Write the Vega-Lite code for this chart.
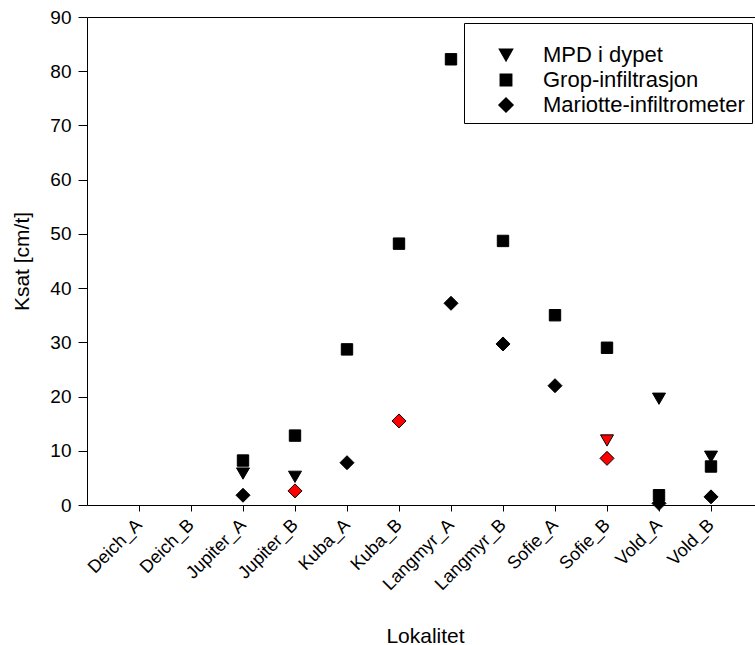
{
  "$schema": "https://vega.github.io/schema/vega-lite/v6.json",
  "autosize": "none",
  "padding": {"left": 87, "top": 17, "right": 0, "bottom": 140},
  "width": 668,
  "height": 488,
  "background": "white",
  "config": {
    "view": {"stroke": null},
    "font": "Liberation Sans",
    "axis": {"grid": false, "domainColor": "black", "tickColor": "black", "labelColor": "black", "titleColor": "black", "labelFont": "Liberation Sans", "titleFont": "Liberation Sans", "titleFontWeight": "normal"},
    "legend": {"labelFont": "Liberation Sans", "titleFont": "Liberation Sans"}
  },
  "data": {
    "values": [
      {"lokalitet": "Jupiter_A", "metode": "MPD i dypet", "ksat": 5.8, "uthevet": "nei"},
      {"lokalitet": "Jupiter_A", "metode": "Grop-infiltrasjon", "ksat": 8.2, "uthevet": "nei"},
      {"lokalitet": "Jupiter_A", "metode": "Mariotte-infiltrometer", "ksat": 1.8, "uthevet": "nei"},
      {"lokalitet": "Jupiter_B", "metode": "MPD i dypet", "ksat": 5.2, "uthevet": "nei"},
      {"lokalitet": "Jupiter_B", "metode": "Grop-infiltrasjon", "ksat": 12.8, "uthevet": "nei"},
      {"lokalitet": "Jupiter_B", "metode": "Mariotte-infiltrometer", "ksat": 2.6, "uthevet": "ja"},
      {"lokalitet": "Kuba_A", "metode": "Grop-infiltrasjon", "ksat": 28.7, "uthevet": "nei"},
      {"lokalitet": "Kuba_A", "metode": "Mariotte-infiltrometer", "ksat": 7.8, "uthevet": "nei"},
      {"lokalitet": "Kuba_B", "metode": "Grop-infiltrasjon", "ksat": 48.2, "uthevet": "nei"},
      {"lokalitet": "Kuba_B", "metode": "Mariotte-infiltrometer", "ksat": 15.5, "uthevet": "ja"},
      {"lokalitet": "Langmyr_A", "metode": "Grop-infiltrasjon", "ksat": 82.2, "uthevet": "nei"},
      {"lokalitet": "Langmyr_A", "metode": "Mariotte-infiltrometer", "ksat": 37.2, "uthevet": "nei"},
      {"lokalitet": "Langmyr_B", "metode": "Grop-infiltrasjon", "ksat": 48.7, "uthevet": "nei"},
      {"lokalitet": "Langmyr_B", "metode": "Mariotte-infiltrometer", "ksat": 29.7, "uthevet": "nei"},
      {"lokalitet": "Sofie_A", "metode": "Grop-infiltrasjon", "ksat": 35.0, "uthevet": "nei"},
      {"lokalitet": "Sofie_A", "metode": "Mariotte-infiltrometer", "ksat": 22.0, "uthevet": "nei"},
      {"lokalitet": "Sofie_B", "metode": "MPD i dypet", "ksat": 11.9, "uthevet": "ja"},
      {"lokalitet": "Sofie_B", "metode": "Grop-infiltrasjon", "ksat": 29.0, "uthevet": "nei"},
      {"lokalitet": "Sofie_B", "metode": "Mariotte-infiltrometer", "ksat": 8.6, "uthevet": "ja"},
      {"lokalitet": "Vold_A", "metode": "MPD i dypet", "ksat": 19.6, "uthevet": "nei"},
      {"lokalitet": "Vold_A", "metode": "Grop-infiltrasjon", "ksat": 1.8, "uthevet": "nei"},
      {"lokalitet": "Vold_A", "metode": "Mariotte-infiltrometer", "ksat": 0.3, "uthevet": "nei"},
      {"lokalitet": "Vold_B", "metode": "MPD i dypet", "ksat": 8.9, "uthevet": "nei"},
      {"lokalitet": "Vold_B", "metode": "Grop-infiltrasjon", "ksat": 7.1, "uthevet": "nei"},
      {"lokalitet": "Vold_B", "metode": "Mariotte-infiltrometer", "ksat": 1.5, "uthevet": "nei"}
    ]
  },
  "resolve": {"axis": {"x": "independent"}},
  "layer": [
    {
      "mark": {"type": "point", "opacity": 0},
      "encoding": {
        "x": {
          "field": "lokalitet", "type": "nominal",
          "scale": {"type": "point", "padding": 1, "range": [0, 676], "domain": ["Deich_A", "Deich_B", "Jupiter_A", "Jupiter_B", "Kuba_A", "Kuba_B", "Langmyr_A", "Langmyr_B", "Sofie_A", "Sofie_B", "Vold_A", "Vold_B"]},
          "axis": {"orient": "top", "labels": false, "ticks": false, "title": null}
        },
        "y": {"field": "ksat", "type": "quantitative", "scale": {"domain": [0, 90], "nice": false}}
      }
    },
    {
      "mark": {"type": "point", "filled": true, "stroke": "black", "strokeWidth": 1, "opacity": 1, "clip": false},
      "encoding": {
        "x": {
          "field": "lokalitet", "type": "nominal",
          "scale": {"type": "point", "padding": 1, "range": [0, 676], "domain": ["Deich_A", "Deich_B", "Jupiter_A", "Jupiter_B", "Kuba_A", "Kuba_B", "Langmyr_A", "Langmyr_B", "Sofie_A", "Sofie_B", "Vold_A", "Vold_B"]},
          "axis": {"orient": "bottom", "title": "Lokalitet", "labelAngle": -45, "labelAlign": "right", "labelBaseline": "middle", "labelFontSize": 18, "labelPadding": 11, "labelDx": 3, "tickSize": 6, "titleFontSize": 21, "titleBaseline": "alphabetic", "titleY": 137, "titleX": 338}
        },
        "y": {
          "field": "ksat", "type": "quantitative",
          "scale": {"domain": [0, 90], "nice": false, "zero": true},
          "axis": {"title": "Ksat [cm/t]", "values": [0, 10, 20, 30, 40, 50, 60, 70, 80, 90], "labelFontSize": 19, "tickSize": 9, "labelPadding": 7, "titleFontSize": 21, "titleX": -65, "titleBaseline": "middle"}
        },
        "shape": {
          "field": "metode", "type": "nominal",
          "scale": {"domain": ["MPD i dypet", "Grop-infiltrasjon", "Mariotte-infiltrometer"], "range": ["triangle-down", "square", "diamond"]},
          "legend": {"title": " ", "titleFontSize": 9, "titlePadding": 5, "orient": "none", "legendX": 377, "legendY": 6, "labelFontSize": 22, "labelLimit": 400, "labelColor": "black", "strokeColor": "black", "fillColor": "white", "padding": 7, "symbolOffset": 24, "labelOffset": 26, "rowPadding": 3, "symbolFillColor": "black", "symbolStrokeColor": "black"}
        },
        "size": {
          "field": "metode", "type": "nominal",
          "scale": {"type": "ordinal", "domain": ["MPD i dypet", "Grop-infiltrasjon", "Mariotte-infiltrometer"], "range": [169, 130, 196]},
          "legend": {"title": " ", "titleFontSize": 9, "titlePadding": 5, "orient": "none", "legendX": 377, "legendY": 6, "labelFontSize": 22, "labelLimit": 400, "labelColor": "black", "strokeColor": "black", "fillColor": "white", "padding": 7, "symbolOffset": 24, "labelOffset": 26, "rowPadding": 3, "symbolFillColor": "black", "symbolStrokeColor": "black"}
        },
        "fill": {
          "field": "uthevet", "type": "nominal",
          "scale": {"domain": ["nei", "ja"], "range": ["black", "#ff0000"]},
          "legend": null
        }
      }
    }
  ]
}
